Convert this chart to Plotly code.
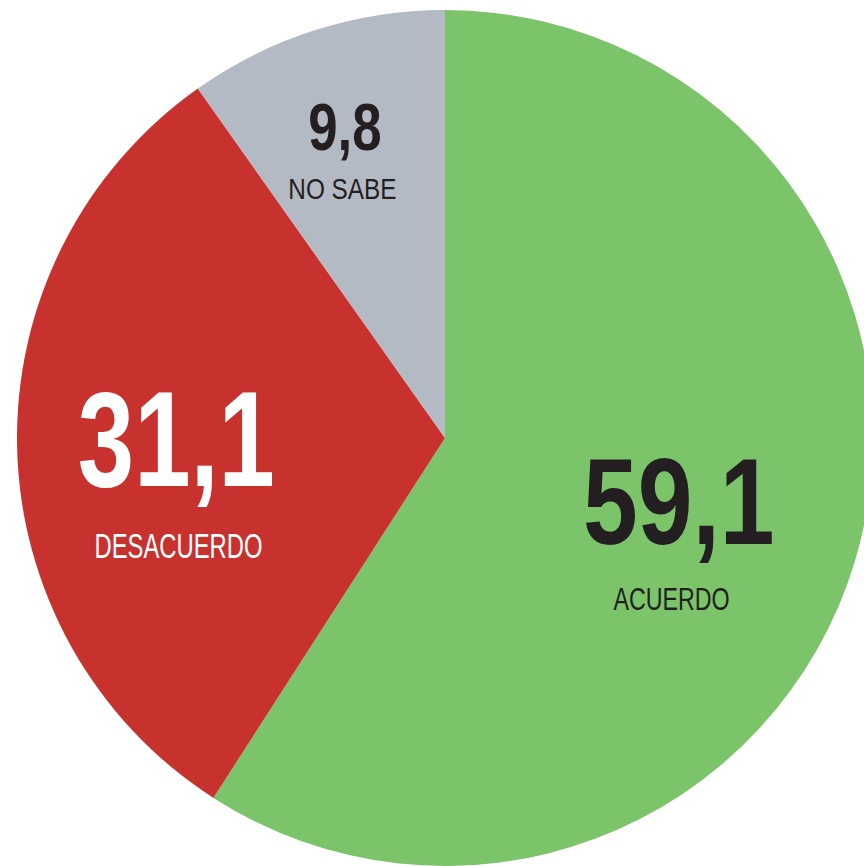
import plotly.graph_objects as go

categories = ["ACUERDO", "DESACUERDO", "NO SABE"]
values = [59.1, 31.1, 9.8]
value_labels = ["59,1", "31,1", "9,8"]
colors = ["#7BC46A", "#C8322E", "#B4BAC3"]
text_colors = ["#231F20", "#FFFFFF", "#231F20"]

W, H = 880, 866
FONT = "Liberation Sans Narrow, Arial Narrow, Liberation Sans, Arial, sans-serif"

fig = go.Figure(go.Pie(
    labels=categories,
    values=values,
    sort=False,
    direction="clockwise",
    rotation=0,
    marker=dict(colors=colors, line=dict(width=0)),
    textinfo="none",
    hoverinfo="label+value",
    showlegend=False,
    domain=dict(x=[17 / W, 873 / W], y=[0, 856 / H]),
))

# label layout: (value center x, y, size), (category center x, y, size) in pixels from top-left
label_pos = [
    ((678, 501, 123), (671, 599, 31)),
    ((176, 439, 135), (178, 545, 35)),
    ((345, 127, 66), (342, 189, 29)),
]

for i, ((vx, vy, vs), (cx, cy, cs)) in enumerate(label_pos):
    fig.add_annotation(x=vx / W, y=1 - vy / H, xref="paper", yref="paper",
                       text="<b>" + value_labels[i] + "</b>", showarrow=False,
                       xanchor="center", yanchor="middle",
                       font=dict(family=FONT, size=vs, color=text_colors[i]))
    fig.add_annotation(x=cx / W, y=1 - cy / H, xref="paper", yref="paper",
                       text=categories[i], showarrow=False,
                       xanchor="center", yanchor="middle",
                       font=dict(family=FONT, size=cs, color=text_colors[i]))

fig.update_layout(width=W, height=H, margin=dict(l=0, r=0, t=0, b=0),
                  paper_bgcolor="white", plot_bgcolor="white")

# condensed look: horizontal squeeze of each annotation text (in order added)
post = """
document.body.style.margin='0';
document.body.style.overflow='hidden';
document.documentElement.style.overflow='hidden';
var sx = [0.80, 0.75, 0.75, 0.68, 0.80, 0.84];
document.querySelectorAll('text.annotation-text').forEach(function(t, i){
  t.style.transformBox = 'fill-box';
  t.style.transformOrigin = 'center';
  t.style.transform = 'scaleX(' + sx[i] + ')';
});
"""

fig.write_html("out.html", config={"displayModeBar": False}, post_script=post)
